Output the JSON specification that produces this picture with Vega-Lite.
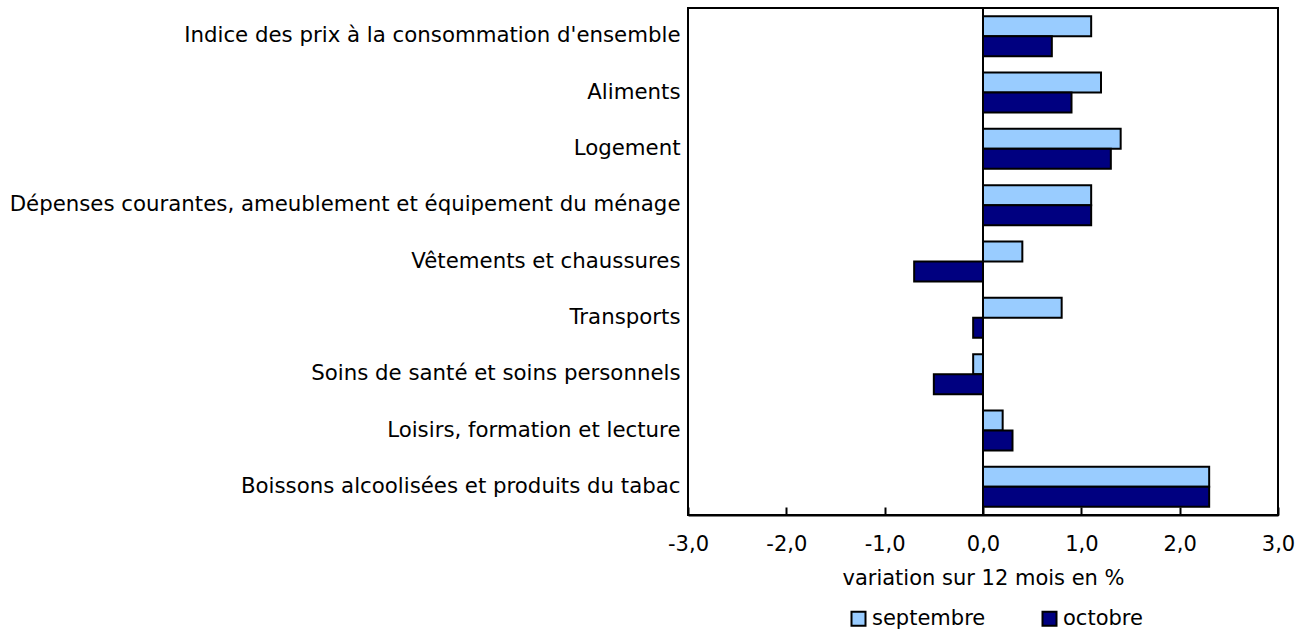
{
  "$schema": "https://vega.github.io/schema/vega-lite/v6.json",
  "width": 590,
  "height": 507,
  "autosize": {"type": "none"},
  "padding": {"left": 688, "top": 8, "right": 31, "bottom": 115},
  "background": "white",
  "config": {
    "font": "DejaVu Sans",
    "view": {"stroke": "black", "strokeWidth": 2}
  },
  "data": {
    "values": [
      {"cat": "Indice des prix à la consommation d'ensemble", "serie": "septembre", "v": 1.1},
      {"cat": "Indice des prix à la consommation d'ensemble", "serie": "octobre", "v": 0.7},
      {"cat": "Aliments", "serie": "septembre", "v": 1.2},
      {"cat": "Aliments", "serie": "octobre", "v": 0.9},
      {"cat": "Logement", "serie": "septembre", "v": 1.4},
      {"cat": "Logement", "serie": "octobre", "v": 1.3},
      {"cat": "Dépenses courantes, ameublement et équipement du ménage", "serie": "septembre", "v": 1.1},
      {"cat": "Dépenses courantes, ameublement et équipement du ménage", "serie": "octobre", "v": 1.1},
      {"cat": "Vêtements et chaussures", "serie": "septembre", "v": 0.4},
      {"cat": "Vêtements et chaussures", "serie": "octobre", "v": -0.7},
      {"cat": "Transports", "serie": "septembre", "v": 0.8},
      {"cat": "Transports", "serie": "octobre", "v": -0.1},
      {"cat": "Soins de santé et soins personnels", "serie": "septembre", "v": -0.1},
      {"cat": "Soins de santé et soins personnels", "serie": "octobre", "v": -0.5},
      {"cat": "Loisirs, formation et lecture", "serie": "septembre", "v": 0.2},
      {"cat": "Loisirs, formation et lecture", "serie": "octobre", "v": 0.3},
      {"cat": "Boissons alcoolisées et produits du tabac", "serie": "septembre", "v": 2.3},
      {"cat": "Boissons alcoolisées et produits du tabac", "serie": "octobre", "v": 2.3}
    ]
  },
  "layer": [
    {
      "mark": {"type": "bar", "stroke": "black", "strokeWidth": 2},
      "encoding": {
        "y": {
          "field": "cat",
          "type": "nominal",
          "sort": null,
          "scale": {"paddingInner": 0.29, "paddingOuter": 0.145},
          "axis": {
            "title": null,
            "ticks": false,
            "domain": false,
            "labelPadding": 8,
            "labelFontSize": 21.3,
            "labelColor": "black",
            "labelLimit": 900
          }
        },
        "yOffset": {
          "field": "serie",
          "type": "nominal",
          "sort": ["septembre", "octobre"],
          "scale": {"paddingInner": 0, "paddingOuter": 0}
        },
        "x": {
          "field": "v",
          "type": "quantitative",
          "scale": {"domain": [-3, 3], "nice": false, "zero": false},
          "axis": {
            "title": "variation sur 12 mois en %",
            "titleFontSize": 21,
            "titleFontWeight": "normal",
            "titleColor": "black",
            "titlePadding": 13,
            "values": [-3, -2, -1, 0, 1, 2, 3],
            "labelExpr": "replace(replace(format(datum.value, '.1f'), '.', ','), '\u2212', '-')",
            "labelFontSize": 21,
            "labelColor": "black",
            "labelPadding": 26,
            "labelFlush": false,
            "grid": false,
            "domain": true,
            "domainColor": "black",
            "domainWidth": 2,
            "tickColor": "black",
            "tickWidth": 2,
            "tickSize": -8
          }
        },
        "color": {
          "field": "serie",
          "type": "nominal",
          "sort": ["septembre", "octobre"],
          "scale": {"domain": ["septembre", "octobre"], "range": ["#99CCFF", "#000080"]},
          "legend": {
            "title": null,
            "orient": "none",
            "legendX": 160,
            "legendY": 600,
            "direction": "horizontal",
            "symbolType": "square",
            "symbolSize": 196,
            "symbolStrokeColor": "black",
            "symbolStrokeWidth": 2,
            "labelFontSize": 21,
            "labelColor": "black",
            "labelOffset": 3,
            "columnPadding": 52
          }
        }
      }
    },
    {
      "data": {"values": [{"z": 0}]},
      "mark": {"type": "rule", "color": "black", "strokeWidth": 2},
      "encoding": {"x": {"field": "z", "type": "quantitative"}}
    }
  ]
}
